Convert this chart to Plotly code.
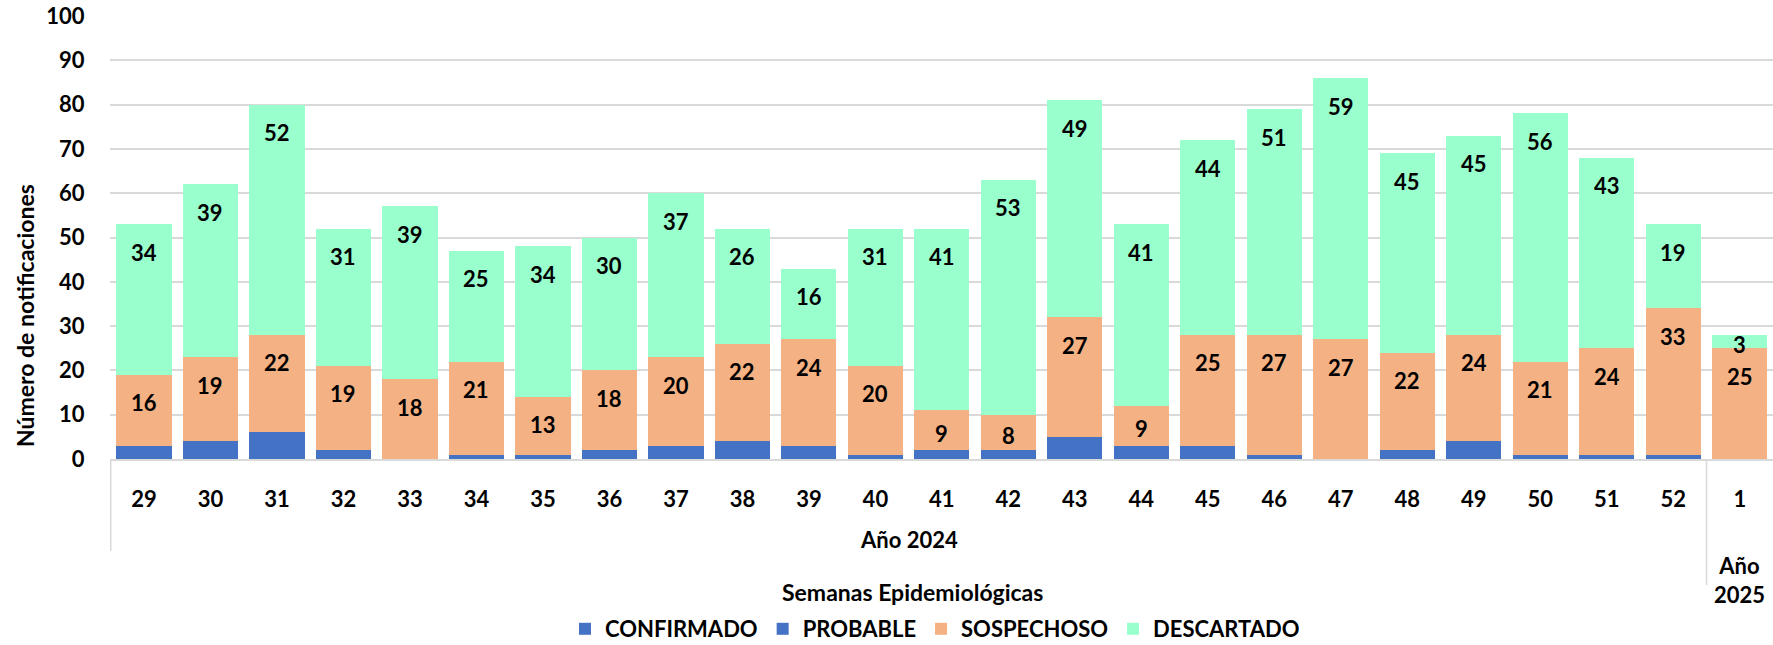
import plotly.graph_objects as go

weeks = ["29", "30", "31", "32", "33", "34", "35", "36", "37", "38", "39", "40",
         "41", "42", "43", "44", "45", "46", "47", "48", "49", "50", "51", "52", "1"]
years = ["Año 2024"] * 24 + ["Año 2025"]

confirmado = [1, 0, 0, 0, 0, 0, 0, 0, 1, 0, 0, 0, 0, 0, 4, 2, 0, 0, 0, 0, 3, 0, 0, 0, 0]
probable   = [2, 4, 6, 2, 0, 1, 1, 2, 2, 4, 3, 1, 2, 2, 1, 1, 3, 1, 0, 2, 1, 1, 1, 1, 0]
sospechoso = [16, 19, 22, 19, 18, 21, 13, 18, 20, 22, 24, 20, 9, 8, 27, 9, 25, 27, 27, 22, 24, 21, 24, 33, 25]
descartado = [34, 39, 52, 31, 39, 25, 34, 30, 37, 26, 16, 31, 41, 53, 49, 41, 44, 51, 59, 45, 45, 56, 43, 19, 3]

BLUE = "#4472C4"
ORANGE = "#F4B183"
GREEN = "#99FFCC"
FONT = "Lato"
FS = 22

W, H = 1773, 645
ML, MR, MT, MB = 110, 0, 16, 186
PLOT_H = H - MT - MB
PLOT_W = W - ML - MR
YMAX = 100
PX_PER_UNIT = PLOT_H / YMAX


def py(pixel_y):
    """page pixel row -> paper y"""
    return (MT + PLOT_H - pixel_y) / PLOT_H


def px(pixel_x):
    return (pixel_x - ML) / PLOT_W


bold = dict(family=FONT, size=FS, color="black", weight="bold")

fig = go.Figure()
for name, vals, color in [("CONFIRMADO", confirmado, BLUE),
                          ("PROBABLE", probable, BLUE),
                          ("SOSPECHOSO", sospechoso, ORANGE),
                          ("DESCARTADO", descartado, GREEN)]:
    fig.add_trace(go.Bar(x=weeks, y=vals, name=name, marker=dict(color=color, line=dict(width=0))))

# data labels (inside end, like the original)
annotations = []
for i in range(len(weeks)):
    base = confirmado[i] + probable[i]
    for vals in (sospechoso, descartado):
        v = vals[i]
        top = base + v
        if v > 0:
            seg_px = v * PX_PER_UNIT
            shift = -min(28, seg_px / 2 + 3)
            annotations.append(dict(x=i, y=top, xref="x", yref="y", text=str(v), showarrow=False,
                                    yanchor="middle", yshift=shift, font=bold))
        base = top

# group labels on the category axis
n2024 = years.count("Año 2024")
annotations.append(dict(x=(n2024 - 1) / 2, y=py(539), xref="x", yref="paper",
                        text="Año 2024", showarrow=False, yanchor="middle", font=bold))
annotations.append(dict(x=n2024, y=py(580), xref="x", yref="paper",
                        text="Año<br>2025", showarrow=False, yanchor="middle", font=bold))
# axis titles
annotations.append(dict(x=px(912), y=py(592), xref="paper", yref="paper",
                        text="Semanas Epidemiológicas", showarrow=False, yanchor="middle", xanchor="center",
                        font=dict(family=FONT, size=23, color="black", weight="bold")))
annotations.append(dict(x=px(25), y=py(316), xref="paper", yref="paper",
                        text="Número de notificaciones", showarrow=False, textangle=-90,
                        yanchor="middle", xanchor="center",
                        font=dict(family=FONT, size=23, color="black", weight="bold")))

shapes = [
    dict(type="line", xref="x", yref="paper", x0=-0.5, x1=-0.5, y0=0, y1=py(551),
         line=dict(color="#D9D9D9", width=1.5)),
    dict(type="line", xref="x", yref="paper", x0=n2024 - 0.5, x1=n2024 - 0.5, y0=0,
         y1=py(585), line=dict(color="#D9D9D9", width=1.5)),
]

fig.update_layout(
    barmode="stack",
    bargap=0.17,
    width=W, height=H,
    margin=dict(l=ML, r=MR, t=MT, b=MB, pad=0, autoexpand=False),
    plot_bgcolor="white", paper_bgcolor="white",
    font=bold,
    annotations=annotations,
    shapes=shapes,
    legend=dict(orientation="h", x=px(935), xanchor="center",
                y=py(629), yanchor="middle", font=bold,
                traceorder="normal", itemwidth=30, bgcolor="rgba(0,0,0,0)"),
    xaxis=dict(type="category", showgrid=False, showline=True, linecolor="#D9D9D9", linewidth=1.5,
               ticks="outside", ticklen=20, tickcolor="rgba(0,0,0,0)", tickfont=bold),
    yaxis=dict(range=[0, YMAX], dtick=10, showgrid=True, gridcolor="#D9D9D9", gridwidth=1.5,
               zeroline=False, ticks="outside", ticklen=20, tickcolor="rgba(0,0,0,0)", tickfont=bold),
)

fig.write_html("out.html", config={"displayModeBar": False},
               post_script="document.body.style.margin='0';document.body.style.overflow='hidden';")
